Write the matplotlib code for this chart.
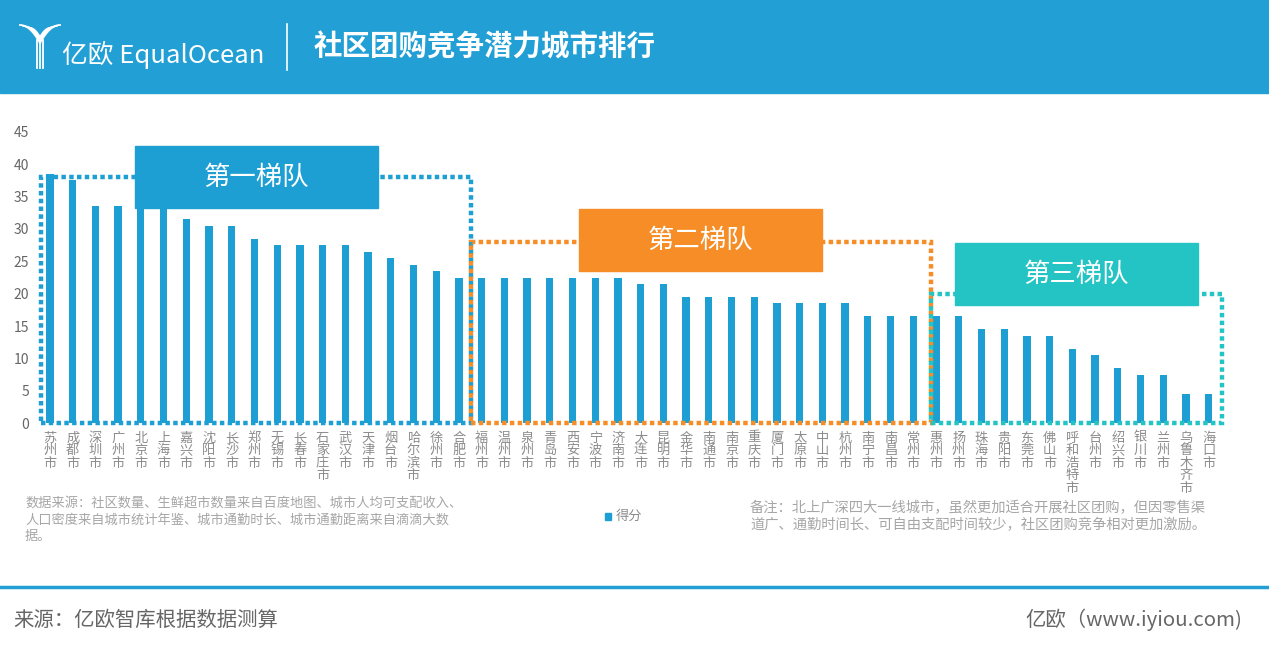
#!/usr/bin/env python
import numpy as np
import matplotlib
matplotlib.use('Agg')
import matplotlib.pyplot as plt
from matplotlib.patches import Rectangle

plt.rcParams['font.family'] = ['Noto Sans CJK SC', 'DejaVu Sans']

### === data ===
cities = ['苏州市', '成都市', '深圳市', '广州市', '北京市', '上海市', '嘉兴市', '沈阳市',
          '长沙市', '郑州市', '无锡市', '长春市', '石家庄市', '武汉市', '天津市', '烟台市',
          '哈尔滨市', '徐州市', '合肥市',
          '福州市', '温州市', '泉州市', '青岛市', '西安市', '宁波市', '济南市', '大连市',
          '昆明市', '金华市', '南通市', '南京市', '重庆市', '厦门市', '太原市', '中山市',
          '杭州市', '南宁市', '南昌市', '常州市',
          '惠州市', '扬州市', '珠海市', '贵阳市', '东莞市', '佛山市', '呼和浩特市', '台州市',
          '绍兴市', '银川市', '兰州市', '乌鲁木齐市', '海口市']
scores = [38.5, 37.5, 33.5, 33.5, 34.0, 34.0, 31.5, 30.5,
          30.5, 28.5, 27.5, 27.5, 27.5, 27.5, 26.5, 25.5,
          24.5, 23.5, 22.5,
          22.5, 22.5, 22.5, 22.5, 22.5, 22.5, 22.5, 21.5,
          21.5, 19.5, 19.5, 19.5, 19.5, 18.5, 18.5, 18.5,
          18.5, 16.5, 16.5, 16.5,
          16.5, 16.5, 14.5, 14.5, 13.5, 13.5, 11.5, 10.5,
          8.5, 7.5, 7.5, 4.5, 4.5]

tier_names = ['第一梯队', '第二梯队', '第三梯队']
tier_tops = [38, 28, 20]
tier_colors = ['#1e9fd3', '#f68d26', '#25c4c4']

bar_color = '#1e9fd3'
W, H = 1269, 649

fig = plt.figure(figsize=(W / 100, H / 100), dpi=100)
fig.patch.set_facecolor('white')

### === header ===
fig.patches.append(Rectangle((0, 1 - 93 / H), 1, 93 / H, transform=fig.transFigure,
                             color='#229fd5', zorder=0))
# logo icon: a few curved strokes forming a "Y"
for k in range(4):
    off = k * 3.2
    xs = np.linspace(20 + off, 40, 20)
    ys = 25 + off * 0.3 + (xs - (20 + off)) ** 2 / (40 - 20 - off + 1e-9) * 0.9
    fig.add_artist(plt.Line2D(xs / W, 1 - ys / H, color='white', lw=1.3))
    xs2 = np.linspace(60 - off, 40, 20)
    ys2 = 25 + off * 0.3 + ((60 - off) - xs2) ** 2 / (60 - off - 40 + 1e-9) * 0.9
    fig.add_artist(plt.Line2D(xs2 / W, 1 - ys2 / H, color='white', lw=1.3))
for dx in (-3, 0, 3):
    fig.add_artist(plt.Line2D([(40 + dx) / W] * 2, [1 - 40 / H, 1 - 68 / H],
                              color='white', lw=1.3))
fig.text(62 / W, 1 - 55 / H, '亿欧 EqualOcean', color='white', fontsize=18.5,
         va='center', ha='left', fontweight='light')
fig.add_artist(plt.Line2D([287 / W] * 2, [1 - 24 / H, 1 - 70 / H], color='white', lw=1.2))
fig.text(314 / W, 1 - 47 / H, '社区团购竞争潜力城市排行', color='white', fontsize=20.5,
         fontweight='bold', va='center', ha='left')

### === chart ===
ax = fig.add_axes([38.6 / W, 1 - 423.3 / H, (1220 - 38.6) / W, (423.3 - 131.7) / H])
x = np.arange(len(cities))
ax.bar(x, scores, width=0.32, color=bar_color, zorder=3)
ax.set_xlim(-0.5, len(cities) - 0.5)
ax.set_ylim(0, 45)
ax.set_yticks(np.arange(0, 46, 5))
ax.tick_params(axis='y', length=0, labelsize=10, labelcolor='#666666', pad=7)
ax.set_xticks(x)
ax.set_xticklabels(['\n'.join(c) for c in cities], fontsize=9.5, color='#8c8c8c',
                   linespacing=0.95, va='top')
ax.tick_params(axis='x', length=0, pad=6)
for s in ax.spines.values():
    s.set_visible(False)

# tier boxes (dotted) and label boxes
edges = [-0.4, 18.55, 38.76, 51.6]
label_boxes = [(135, 146, 243, 62), (579, 209, 243, 62), (955, 243, 243, 62)]
for i, name in enumerate(tier_names):
    r = Rectangle((edges[i], 0), edges[i + 1] - edges[i], tier_tops[i], fill=False,
                  edgecolor=tier_colors[i], lw=3.2, linestyle=(0, (1, 0.75)),
                  clip_on=False, zorder=4)
    ax.add_patch(r)
    bx, by, bw, bh = label_boxes[i]
    fig.patches.append(Rectangle((bx / W, 1 - (by + bh) / H), bw / W, bh / H,
                                 transform=fig.transFigure, color=tier_colors[i], zorder=5))
    fig.text((bx + bw / 2) / W, 1 - (by + bh / 2) / H, name, color='white', fontsize=19,
             ha='center', va='center', zorder=6, fontweight='light')

### === notes and legend ===
fig.text(25 / W, 1 - 497 / H,
         '数据来源：社区数量、生鲜超市数量来自百度地图、城市人均可支配收入、\n'
         '人口密度来自城市统计年鉴、城市通勤时长、城市通勤距离来自滴滴大数\n据。',
         color='#a6a6a6', fontsize=9.5, va='top', ha='left', linespacing=1.35)
fig.patches.append(Rectangle((605 / W, 1 - 520 / H), 6 / W, 7 / H,
                             transform=fig.transFigure, color=bar_color))
fig.text(616 / W, 1 - 516 / H, '得分', color='#8c8c8c', fontsize=9.5, va='center', ha='left')
fig.text(750 / W, 1 - 501 / H,
         '备注：北上广深四大一线城市，虽然更加适合开展社区团购，但因零售渠\n'
         '道广、通勤时间长、可自由支配时间较少，社区团购竞争相对更加激励。',
         color='#a6a6a6', fontsize=10.3, va='top', ha='left', linespacing=1.25)

### === footer ===
fig.add_artist(plt.Line2D([0, 1], [1 - 587 / H] * 2, color='#229fd5', lw=2.5))
fig.text(13 / W, 1 - 620 / H, '来源：亿欧智库根据数据测算', color='#666666', fontsize=14.7,
         va='center', ha='left')
fig.text(1242 / W, 1 - 620 / H, '亿欧（www.iyiou.com)', color='#666666', fontsize=14.7,
         va='center', ha='right')

fig.savefig('out.png', dpi=100)
